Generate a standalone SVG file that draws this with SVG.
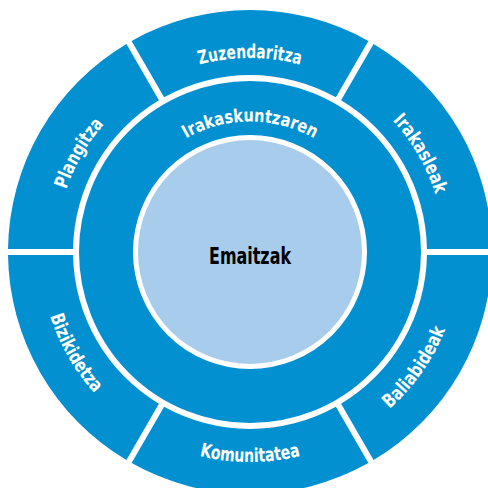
<svg xmlns="http://www.w3.org/2000/svg" width="488" height="488" viewBox="0 0 488 488">
<style>
.seg{fill:#0390d0}
.lbl{fill:#ffffff;font-family:'Liberation Sans Narrow','DejaVu Sans Condensed','Liberation Sans',sans-serif;font-weight:bold;font-size:19px}
.ctr{fill:#000000;font-family:'Liberation Sans Narrow','DejaVu Sans Condensed','Liberation Sans',sans-serif;font-weight:bold;font-size:23px}
</style>
<defs>
<path id="pZ" d="M81.99,155 A194,194 0 0 1 418.01,155"/>
<path id="pIr" d="M250,58 A194,194 0 0 1 418.01,349"/>
<path id="pP" d="M81.99,349 A194,194 0 0 1 250,58"/>
<path id="pK" d="M68.13,357 A210,210 0 0 0 431.87,357"/>
<path id="pB" d="M68.13,147 A210,210 0 0 0 250,462"/>
<path id="pBa" d="M231.70,461.20 A210,210 0 0 0 440.32,163.25"/>
<path id="pM" d="M137.42,187.5 A129,129 0 0 1 362.58,187.5"/>
</defs>
<rect width="488" height="488" fill="#ffffff"/>
<g id="zuzendaritza">
<path class="seg" d="M131.61,40.94 A242,242 0 0 1 368.39,40.94 L335.89,97.24 A177,177 0 0 0 164.11,97.24 Z"/>
<text class="lbl"><textPath href="#pZ" startOffset="50%" text-anchor="middle" textLength="102" lengthAdjust="spacingAndGlyphs">Zuzendaritza</textPath></text>
</g>
<g id="irakasleak">
<path class="seg" d="M373.59,43.95 A242,242 0 0 1 491.98,249 L426.97,249 A177,177 0 0 0 341.08,100.24 Z"/>
<text class="lbl"><textPath href="#pIr" startOffset="50%" text-anchor="middle" textLength="86" lengthAdjust="spacingAndGlyphs">Irakasleak</textPath></text>
</g>
<g id="baliabideak">
<path class="seg" d="M491.98,255 A242,242 0 0 1 373.59,460.05 L341.08,403.76 A177,177 0 0 0 426.97,255 Z"/>
<text class="lbl"><textPath href="#pBa" startOffset="50%" text-anchor="middle" textLength="98" lengthAdjust="spacingAndGlyphs">Baliabideak</textPath></text>
</g>
<g id="komunitatea">
<path class="seg" d="M368.39,463.06 A242,242 0 0 1 131.61,463.06 L164.11,406.76 A177,177 0 0 0 335.89,406.76 Z"/>
<text class="lbl"><textPath href="#pK" startOffset="50%" text-anchor="middle" textLength="102" lengthAdjust="spacingAndGlyphs">Komunitatea</textPath></text>
</g>
<g id="bizikidetza">
<path class="seg" d="M126.41,460.05 A242,242 0 0 1 8.02,255 L73.03,255 A177,177 0 0 0 158.92,403.76 Z"/>
<text class="lbl"><textPath href="#pB" startOffset="50%" text-anchor="middle" textLength="90" lengthAdjust="spacingAndGlyphs">Bizikidetza</textPath></text>
</g>
<g id="plangitza">
<path class="seg" d="M8.02,249 A242,242 0 0 1 126.41,43.95 L158.92,100.24 A177,177 0 0 0 73.03,249 Z"/>
<text class="lbl"><textPath href="#pP" startOffset="50%" text-anchor="middle" textLength="76" lengthAdjust="spacingAndGlyphs">Plangitza</textPath></text>
</g>
<g id="irakaskuntzaren">
<circle cx="250" cy="252" r="144" fill="none" stroke="#0390d0" stroke-width="54"/>
<text class="lbl" style="font-size:18px"><textPath href="#pM" startOffset="50%" text-anchor="middle" textLength="134" lengthAdjust="spacingAndGlyphs">Irakaskuntzaren</textPath></text>
</g>
<g id="emaitzak">
<circle cx="250" cy="252" r="112" fill="#a8ccec"/>
<text class="ctr" x="250" y="264" text-anchor="middle" textLength="82" lengthAdjust="spacingAndGlyphs">Emaitzak</text>
</g>
<g id="connectors"/>
</svg>
